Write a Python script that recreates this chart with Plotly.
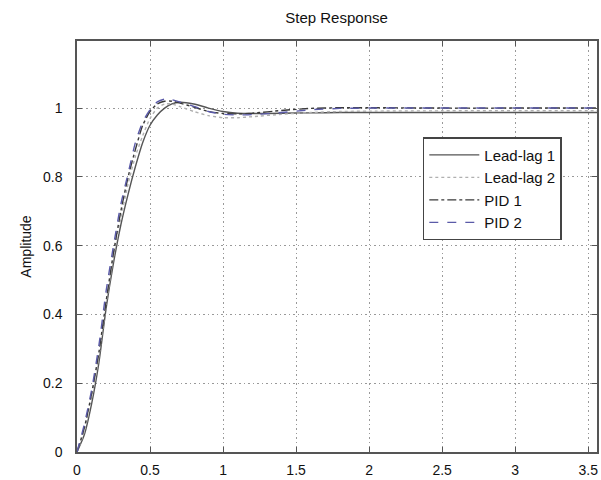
import plotly.graph_objects as go

t = [0, 0.05, 0.1, 0.15, 0.2, 0.25, 0.3, 0.35, 0.4, 0.45, 0.5, 0.55, 0.6, 0.65,
     0.7, 0.8, 0.9, 1.0, 1.1, 1.2, 1.4, 1.6, 1.8, 2.0, 2.5, 3.0, 3.6]

lead_lag_1 = [0, 0.05, 0.14, 0.26, 0.42, 0.55, 0.66, 0.75, 0.83, 0.90, 0.95, 0.98, 1.0, 1.012,
              1.017, 1.012, 1.0, 0.99, 0.985, 0.984, 0.985, 0.986, 0.987, 0.987, 0.987, 0.987, 0.987]
lead_lag_2 = [0, 0.06, 0.16, 0.28, 0.43, 0.57, 0.68, 0.78, 0.86, 0.92, 0.97, 1.0, 1.012, 1.012,
              1.005, 0.99, 0.978, 0.972, 0.972, 0.975, 0.982, 0.987, 0.99, 0.991, 0.992, 0.992, 0.992]
pid_1 = [0, 0.07, 0.17, 0.29, 0.44, 0.58, 0.70, 0.80, 0.88, 0.95, 0.99, 1.012, 1.02, 1.02,
         1.015, 1.003, 0.99, 0.984, 0.983, 0.985, 0.993, 0.999, 1.001, 1.001, 1.0, 1.0, 1.0]
pid_2 = [0, 0.08, 0.18, 0.31, 0.47, 0.60, 0.72, 0.81, 0.90, 0.96, 0.995, 1.018, 1.026, 1.024,
         1.018, 1.005, 0.99, 0.982, 0.98, 0.981, 0.987, 0.995, 0.999, 1.0, 1.0, 1.0, 1.0]

x_ticks = [0, 0.5, 1, 1.5, 2, 2.5, 3, 3.5]
y_ticks = [0, 0.2, 0.4, 0.6, 0.8, 1]

series = [
    ("Lead-lag 1", lead_lag_1, "#555555", "solid"),
    ("Lead-lag 2", lead_lag_2, "#b0b0b0", "dot"),
    ("PID 1", pid_1, "#3a3a3a", "dashdot"),
    ("PID 2", pid_2, "#5a5aa8", "dash"),
]

fig = go.Figure()
for name, vals, color, dash in series:
    fig.add_trace(go.Scatter(x=t, y=vals, name=name, mode="lines",
                             line=dict(color=color, width=1.4, dash=dash, shape="spline", smoothing=0.6)))

axis_common = dict(
    showline=True, linecolor="#555555", linewidth=1.5, mirror="ticks",
    ticks="inside", ticklen=5, tickcolor="#555555",
    showgrid=True, gridcolor="#999999", griddash="1.5px,3px", gridwidth=1.2,
    zeroline=False, tickfont=dict(size=14, color="#111111"), automargin=False,
)

fig.update_layout(
    width=601, height=480,
    margin=dict(l=77, r=4, t=41, b=28, autoexpand=False),
    paper_bgcolor="white", plot_bgcolor="white",
    font=dict(family="Liberation Sans, Arial, sans-serif", color="#111111"),
    title=dict(text="Step Response", x=0.56, xanchor="center", y=0.962, yanchor="middle",
               font=dict(size=15)),
    xaxis=dict(range=[0, 3.56], tickvals=x_ticks, ticklabelstandoff=4, **axis_common),
    yaxis=dict(range=[0, 1.195], tickvals=y_ticks, ticklabelstandoff=10,
               title=dict(text="Amplitude", font=dict(size=14), standoff=8), **axis_common),
    legend=dict(x=0.665, y=0.766, xanchor="left", yanchor="top",
                bgcolor="white", bordercolor="#444444", borderwidth=1.5,
                font=dict(size=15), tracegroupgap=0, itemwidth=50),
    showlegend=True,
)

fig.write_html("out.html",
               config={"displayModeBar": False},
               post_script="document.body.style.margin='0';document.body.style.padding='0';")
